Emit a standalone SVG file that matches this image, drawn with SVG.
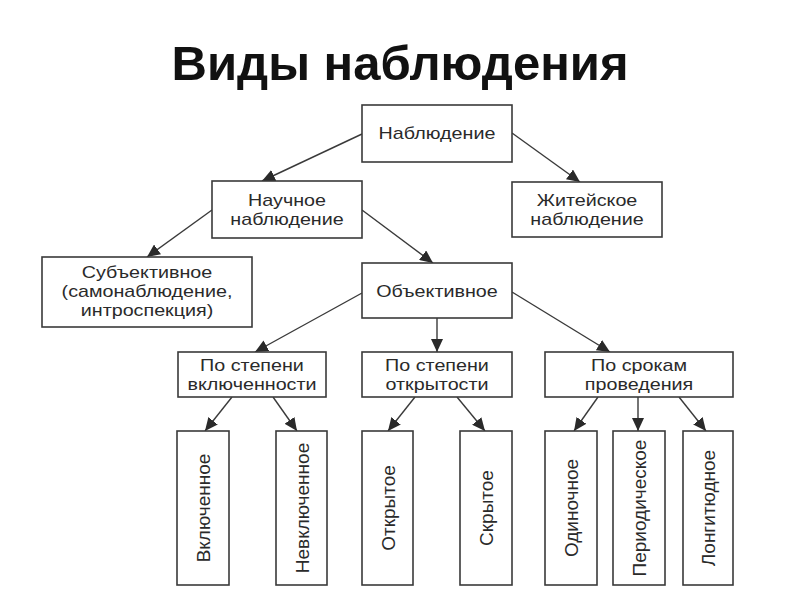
<svg xmlns="http://www.w3.org/2000/svg" width="800" height="600" viewBox="0 0 800 600">
<defs>
<marker id="ah" markerWidth="13" markerHeight="12" refX="13" refY="6" orient="auto" markerUnits="userSpaceOnUse">
<path d="M0,0 L13,6 L0,12 z" fill="#2a2a2a"/>
</marker>
<style>
.box{fill:#fff;stroke:#3a3a3a;stroke-width:1.6}
.t{font-family:"Liberation Sans",Arial,sans-serif;font-size:17px;fill:#2a2a2a;text-anchor:middle}
.v{font-family:"Liberation Sans",Arial,sans-serif;font-size:19px;fill:#2a2a2a;text-anchor:middle}
.c{stroke:#3a3a3a;stroke-width:1.4;fill:none;marker-end:url(#ah)}
.title{font-family:"Liberation Sans",Arial,sans-serif;font-size:49px;font-weight:bold;fill:#111;text-anchor:middle}
</style>
</defs>
<rect width="800" height="600" fill="#fff"/>
<text class="title" x="400" y="80">Виды наблюдения</text>

<g id="connectors">
<line class="c" x1="362" y1="134" x2="262" y2="181"/>
<line class="c" x1="512" y1="133" x2="580" y2="182"/>
<line class="c" x1="212" y1="210" x2="147" y2="257"/>
<line class="c" x1="362" y1="210" x2="433" y2="263"/>
<line class="c" x1="362" y1="293" x2="255" y2="352"/>
<line class="c" x1="437" y1="318" x2="437" y2="352"/>
<line class="c" x1="512" y1="292" x2="610" y2="352"/>
<line class="c" x1="232" y1="397" x2="205" y2="431"/>
<line class="c" x1="273" y1="397" x2="297" y2="431"/>
<line class="c" x1="415" y1="397" x2="388" y2="431"/>
<line class="c" x1="457" y1="397" x2="485" y2="431"/>
<line class="c" x1="598" y1="397" x2="574" y2="431"/>
<line class="c" x1="638" y1="397" x2="638" y2="431"/>
<line class="c" x1="679" y1="397" x2="706" y2="431"/>
</g>

<g id="n-nabl">
<rect class="box" x="362" y="105" width="150" height="57"/>
<text class="t" transform="translate(437,139) scale(1.16,1)">Наблюдение</text>
</g>
<g id="n-nauch">
<rect class="box" x="212" y="181" width="150" height="57"/>
<text class="t" transform="translate(287,206) scale(1.16,1)">Научное</text>
<text class="t" transform="translate(287,225) scale(1.16,1)">наблюдение</text>
</g>
<g id="n-zhit">
<rect class="box" x="512" y="182" width="150" height="55"/>
<text class="t" transform="translate(587,206) scale(1.16,1)">Житейское</text>
<text class="t" transform="translate(587,225) scale(1.16,1)">наблюдение</text>
</g>
<g id="n-subj">
<rect class="box" x="42" y="257" width="210" height="70"/>
<text class="t" transform="translate(147,278) scale(1.16,1)">Субъективное</text>
<text class="t" transform="translate(147,297) scale(1.16,1)">(самонаблюдение,</text>
<text class="t" transform="translate(147,316) scale(1.16,1)">интроспекция)</text>
</g>
<g id="n-obj">
<rect class="box" x="362" y="263" width="150" height="55"/>
<text class="t" transform="translate(437,297) scale(1.16,1)">Объективное</text>
</g>
<g id="n-vkl">
<rect class="box" x="178" y="352" width="148" height="45"/>
<text class="t" transform="translate(252,371) scale(1.16,1)">По степени</text>
<text class="t" transform="translate(252,390) scale(1.16,1)">включенности</text>
</g>
<g id="n-otkr">
<rect class="box" x="362" y="352" width="150" height="45"/>
<text class="t" transform="translate(437,371) scale(1.16,1)">По степени</text>
<text class="t" transform="translate(437,390) scale(1.16,1)">открытости</text>
</g>
<g id="n-srok">
<rect class="box" x="545" y="352" width="188" height="45"/>
<text class="t" transform="translate(639,371) scale(1.16,1)">По срокам</text>
<text class="t" transform="translate(639,390) scale(1.16,1)">проведения</text>
</g>

<g id="n-vklyuch">
<rect class="box" x="177" y="431" width="52" height="154"/>
<text class="v" transform="translate(210,508) rotate(-90)">Включенное</text>
</g>
<g id="n-nevklyuch">
<rect class="box" x="276" y="431" width="51" height="154"/>
<text class="v" transform="translate(308.5,508) rotate(-90)">Невключенное</text>
</g>
<g id="n-otkrytoe">
<rect class="box" x="362" y="431" width="51" height="154"/>
<text class="v" transform="translate(394.5,508) rotate(-90)">Открытое</text>
</g>
<g id="n-skrytoe">
<rect class="box" x="460" y="431" width="52" height="154"/>
<text class="v" transform="translate(493,508) rotate(-90)">Скрытое</text>
</g>
<g id="n-odin">
<rect class="box" x="545" y="431" width="52" height="154"/>
<text class="v" transform="translate(578,508) rotate(-90)">Одиночное</text>
</g>
<g id="n-period">
<rect class="box" x="613" y="431" width="52" height="154"/>
<text class="v" transform="translate(646,508) rotate(-90)">Периодическое</text>
</g>
<g id="n-long">
<rect class="box" x="683" y="431" width="50" height="154"/>
<text class="v" transform="translate(715,508) rotate(-90)">Лонгитюдное</text>
</g>
</svg>
